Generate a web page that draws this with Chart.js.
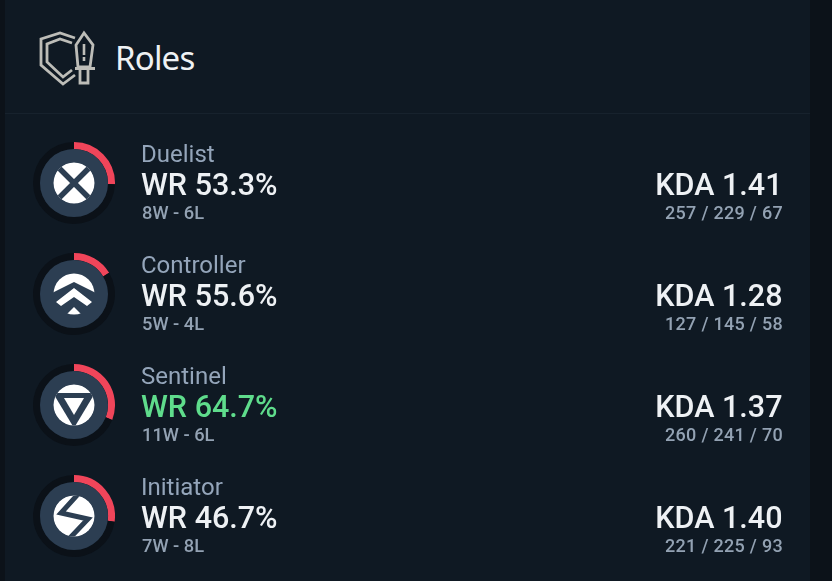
<!DOCTYPE html>
<html>
<head>
<meta charset="utf-8">
<script src="https://cdn.jsdelivr.net/npm/chart.js@4"></script>
<style>
html,body{margin:0;padding:0;width:832px;height:581px;overflow:hidden;background:#0c1219;font-family:Roboto,sans-serif}
#panel{position:absolute;left:5px;top:0;width:805px;height:581px;background:#0f1923}
#rule{position:absolute;left:5px;top:113px;width:805px;height:1px;background:#17222d}
#title{position:absolute;left:115px;top:38px;font:400 33px/40px "Noto Sans",Roboto,sans-serif;color:#eef1f3;letter-spacing:-.8px}
.t{position:absolute;white-space:nowrap}
.role{left:141px;font:400 24px/26px Roboto;color:#94a5ba}
.wr{left:141px;font:500 30.5px/32px Roboto;color:#eef1f4}
.rec{left:142px;font:500 18.3px/20px Roboto;color:#93a2b3}
.kda{right:49.5px;font:500 30.5px/32px Roboto;color:#eef1f4}
.kdaN{right:49px;font:500 18px/20px Roboto;color:#93a2b3;letter-spacing:.3px}
canvas{position:absolute}
svg{position:absolute;left:0;top:0}
</style>
</head>
<body>
<div id="panel"></div>
<div id="rule"></div>
<svg width="832" height="581" style="z-index:1">
  <g fill="none" stroke="#bdbdb8" stroke-width="2.8" stroke-linejoin="miter">
    <path d="M75 38 L60 33 L41 39 L41 65 L63 84 L75 75"/>
    <path d="M72 43 L60 39 L47 44 L47 62 L63 77 L72 70"/>
    <path d="M84 33 L76 45 L78 67 L90 67 L93 45 Z"/>
    <path d="M75 68.5 H95 M80 70 V83 H88 V70"/>
  </g>
  <path d="M84 44 V55 M84 57 V61" stroke="#bdbdb8" stroke-width="2.6"/>
</svg>
<div id="title" class="t">Roles</div>
<div id="rows"></div>
<script>
const roles = ["Duelist", "Controller", "Sentinel", "Initiator"];
const winRates = ["WR 53.3%", "WR 55.6%", "WR 64.7%", "WR 46.7%"];
const records = ["8W - 6L", "5W - 4L", "11W - 6L", "7W - 8L"];
const kdas = ["KDA 1.41", "KDA 1.28", "KDA 1.37", "KDA 1.40"];
const kdaCounts = ["257 / 229 / 67", "127 / 145 / 58", "260 / 241 / 70", "221 / 225 / 93"];
const gamesWithRole = [14, 9, 17, 15];
const gamesWithoutRole = [41, 46, 38, 40];
const centerY = [183, 294, 405, 516];

const disc = '#2c3e52';
const icons = [
  `<g clip-path="url(#c0)"><circle r="21" fill="#fff"/><path d="M-22 -22 L22 22 M22 -22 L-22 22" stroke="${disc}" stroke-width="5.5"/></g>`,
  `<g clip-path="url(#c1)" fill="#fff"><polygon points="-24,0 -24,-30 24,-30 24,0 0,-12"/><polygon points="-18,8 0,-6 18,8 13,12 0,3 -13,12"/><polygon points="-9,22 0,13 9,22 0,30"/></g>`,
  `<g clip-path="url(#c2)"><circle r="21" fill="#fff"/><polygon points="-21,-12 21,-12 0,23" fill="${disc}"/><polygon points="-10,-7 10,-7 0,10" fill="#fff"/></g>`,
  `<g clip-path="url(#c3)"><circle r="21" fill="#fff"/><polyline points="6,-24 -13,-3 14,3 -6,24" fill="none" stroke="${disc}" stroke-width="5"/></g>`
];

const rows = document.getElementById('rows');
function addText(cls, text, top, color) {
  const d = document.createElement('div');
  d.className = 't ' + cls;
  d.textContent = text;
  d.style.top = top + 'px';
  if (color) d.style.color = color;
  rows.appendChild(d);
}

roles.forEach((role, i) => {
  const cy = centerY[i];
  const cv = document.createElement('canvas');
  cv.width = 82; cv.height = 82;
  cv.style.cssText = `left:33px;top:${cy - 41}px;width:82px;height:82px`;
  rows.appendChild(cv);

  new Chart(cv.getContext('2d'), {
    type: 'doughnut',
    data: {
      labels: [role, 'Other roles'],
      datasets: [{
        data: [gamesWithRole[i], gamesWithoutRole[i]],
        backgroundColor: ['#f0455a', '#0b1118'],
        borderWidth: 0
      }]
    },
    options: {
      responsive: false,
      animation: false,
      cutout: '83%',
      rotation: 0,
      layout: { padding: 0 },
      plugins: { legend: { display: false }, tooltip: { enabled: false } }
    }
  });

  const s = document.createElementNS('http://www.w3.org/2000/svg', 'svg');
  s.setAttribute('width', 832); s.setAttribute('height', 581);
  s.innerHTML = `<defs><clipPath id="c${i}"><circle r="20.5"/></clipPath></defs>
    <g transform="translate(74 ${cy})"><circle r="34" fill="${disc}"/>${icons[i]}</g>`;
  rows.appendChild(s);

  addText('role', role, cy - 42);
  addText('wr', winRates[i], cy - 14, i === 2 ? '#5fdc8c' : null);
  addText('rec', records[i], cy + 20);
  addText('kda', kdas[i], cy - 14);
  addText('kdaN', kdaCounts[i], cy + 20);
});
</script>
</body>
</html>
